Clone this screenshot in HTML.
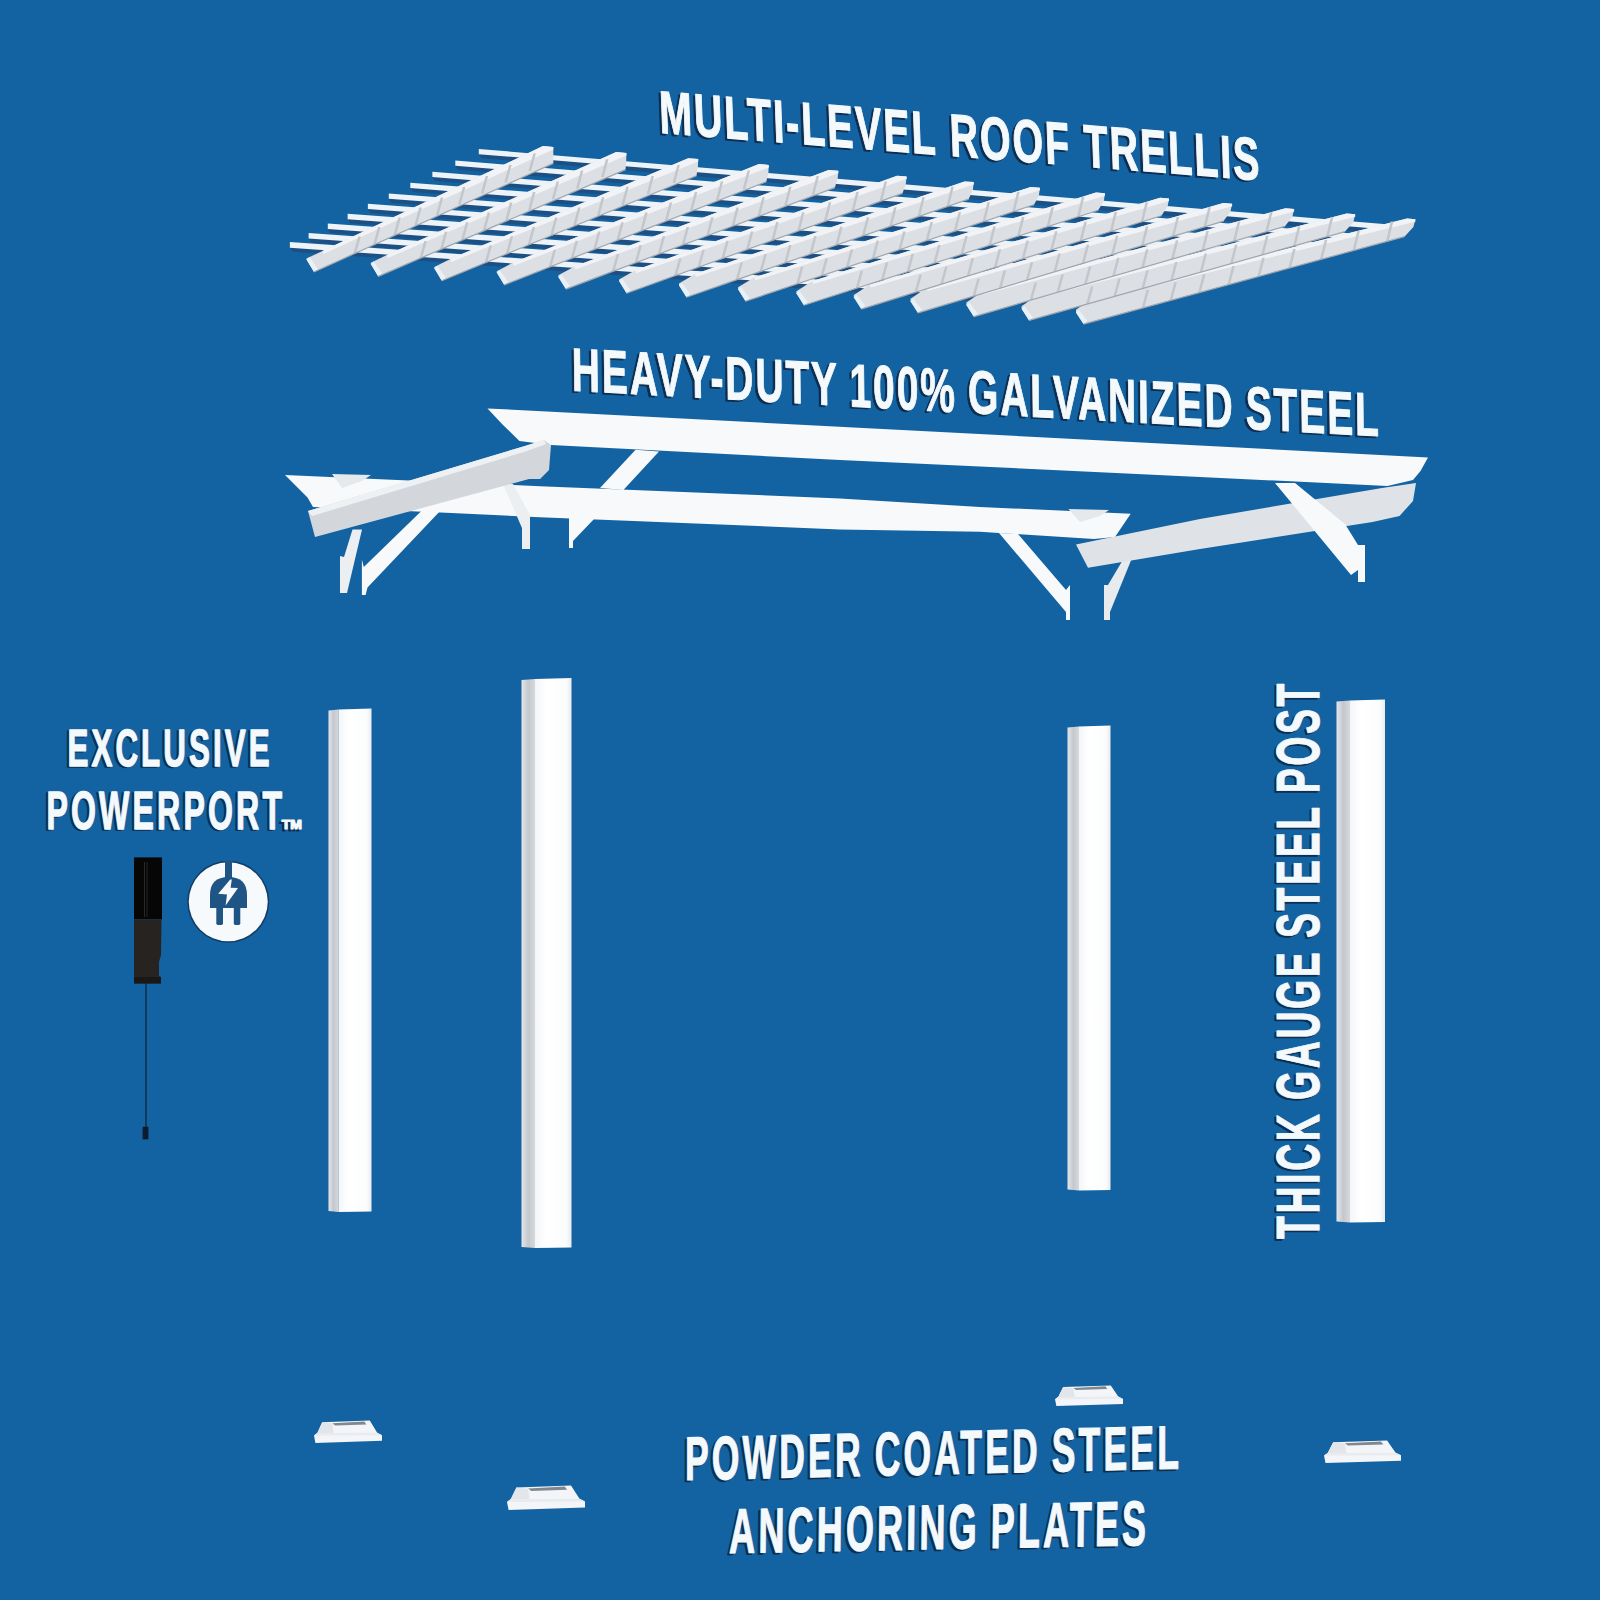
<!DOCTYPE html>
<html><head><meta charset="utf-8">
<style>
html,body{margin:0;padding:0;background:#1363a3;}
body{width:1600px;height:1600px;overflow:hidden;}
svg{display:block;}
text{font-family:"Liberation Sans",sans-serif;font-weight:bold;}
.tw text{stroke:#f4f9fc;vector-effect:non-scaling-stroke;stroke-linejoin:round;}
.ts text{stroke:#0d2e50;vector-effect:non-scaling-stroke;stroke-linejoin:round;}
</style></head>
<body>
<svg width="1600" height="1600" viewBox="0 0 1600 1600">
<defs>
<linearGradient id="pl" x1="0" x2="1" y1="0" y2="0"><stop offset="0" stop-color="#e4e7ea"/><stop offset="0.5" stop-color="#c4c8cc"/><stop offset="1" stop-color="#d6d9dc"/></linearGradient>
<linearGradient id="pf" x1="0" x2="1" y1="0" y2="0"><stop offset="0" stop-color="#f3f5f7"/><stop offset="0.3" stop-color="#ffffff"/><stop offset="0.85" stop-color="#fbfcfd"/><stop offset="1" stop-color="#e9ecef"/></linearGradient>
</defs>
<rect width="1600" height="1600" fill="#1363a3"/>
<polygon points="289.9,247.7 1126.4,306.9 1126.4,311.6 292.4,251.7" fill="#1d4f82" />
<polygon points="289.9,242.1 1126.4,301.3 1126.4,306.9 289.9,247.7" fill="#eef3f7" />
<polygon points="308.6,238.5 1153.6,299.2 1153.6,303.9 311.1,242.5" fill="#1d4f82" />
<polygon points="308.6,232.9 1153.6,293.7 1153.6,299.2 308.6,238.5" fill="#eef3f7" />
<polygon points="327.8,228.9 1181.5,291.4 1181.5,296.1 330.3,232.9" fill="#1d4f82" />
<polygon points="327.8,223.4 1181.5,285.9 1181.5,291.4 327.8,228.9" fill="#eef3f7" />
<polygon points="347.6,219.2 1210.2,283.3 1210.2,288.0 350.1,223.2" fill="#1d4f82" />
<polygon points="347.6,213.7 1210.2,277.9 1210.2,283.3 347.6,219.2" fill="#eef3f7" />
<polygon points="367.9,209.1 1239.5,275.1 1239.5,279.8 370.4,213.1" fill="#1d4f82" />
<polygon points="367.9,203.7 1239.5,269.7 1239.5,275.1 367.9,209.1" fill="#eef3f7" />
<polygon points="388.8,198.7 1269.7,266.6 1269.7,271.3 391.3,202.7" fill="#1d4f82" />
<polygon points="388.8,193.4 1269.7,261.2 1269.7,266.6 388.8,198.7" fill="#eef3f7" />
<polygon points="410.3,188.1 1300.6,257.9 1300.6,262.6 412.8,192.1" fill="#1d4f82" />
<polygon points="410.3,182.7 1300.6,252.6 1300.6,257.9 410.3,188.1" fill="#eef3f7" />
<polygon points="432.4,177.1 1332.3,249.0 1332.3,253.7 434.9,181.1" fill="#1d4f82" />
<polygon points="432.4,171.8 1332.3,243.7 1332.3,249.0 432.4,177.1" fill="#eef3f7" />
<polygon points="455.3,165.8 1364.9,239.9 1364.9,244.6 457.8,169.8" fill="#1d4f82" />
<polygon points="455.3,160.6 1364.9,234.6 1364.9,239.9 455.3,165.8" fill="#eef3f7" />
<polygon points="478.8,154.2 1398.4,230.4 1398.4,235.1 481.3,158.2" fill="#1d4f82" />
<polygon points="478.8,149.0 1398.4,225.2 1398.4,230.4 478.8,154.2" fill="#eef3f7" />
<polygon points="1076.0,309.8 1092.0,298.1 1407.0,218.5 1415.4,219.2 1413.4,227.1 1404.4,236.7 1083.5,324.1 1076.0,312.6" fill="#dcdfe3" />
<polygon points="1092.0,298.1 1407.0,218.5 1415.4,219.2 1415.4,221.7 1093.0,301.1" fill="#f1f3f6" />
<polygon points="1076.0,312.6 1079.0,310.1 1087.5,321.1 1083.5,324.1" fill="#e9f0f6" />
<polygon points="1146.5,290.1 1149.1,290.1 1144.3,307.9 1141.7,307.9" fill="#c3c7cc" />
<polygon points="1174.3,282.3 1176.9,282.3 1172.1,300.3 1169.5,300.3" fill="#c3c7cc" />
<polygon points="1202.9,274.3 1205.5,274.3 1200.7,292.5 1198.1,292.5" fill="#c3c7cc" />
<polygon points="1232.2,266.1 1234.8,266.1 1230.0,284.6 1227.4,284.6" fill="#c3c7cc" />
<polygon points="1262.2,257.7 1264.8,257.7 1260.0,276.4 1257.4,276.4" fill="#c3c7cc" />
<polygon points="1293.1,249.0 1295.7,249.0 1290.9,268.0 1288.3,268.0" fill="#c3c7cc" />
<polygon points="1324.7,240.1 1327.3,240.1 1322.5,259.3 1319.9,259.3" fill="#c3c7cc" />
<polygon points="1357.3,231.0 1359.9,231.0 1355.1,250.5 1352.5,250.5" fill="#c3c7cc" />
<polygon points="1390.7,221.6 1393.3,221.6 1388.5,241.4 1385.9,241.4" fill="#c3c7cc" />
<line x1="1083.5" y1="324.1" x2="1404.4" y2="236.7" stroke="#9fa6ad" stroke-width="1.2"/>
<polygon points="1021.6,306.2 1037.6,294.8 1346.7,213.4 1355.2,214.2 1353.4,222.0 1345.1,231.6 1029.1,320.4 1021.6,308.8" fill="#dcdfe3" />
<polygon points="1037.6,294.8 1346.7,213.4 1355.2,214.2 1355.2,216.7 1038.6,297.8" fill="#f1f3f6" />
<polygon points="1021.6,308.8 1024.6,306.3 1033.1,317.4 1029.1,320.4" fill="#e9f0f6" />
<polygon points="1090.9,286.4 1093.5,286.4 1088.7,304.0 1086.1,304.0" fill="#c3c7cc" />
<polygon points="1118.2,278.5 1120.8,278.5 1116.0,296.3 1113.4,296.3" fill="#c3c7cc" />
<polygon points="1146.2,270.3 1148.8,270.3 1144.0,288.5 1141.4,288.5" fill="#c3c7cc" />
<polygon points="1175.0,262.0 1177.6,262.0 1172.8,280.4 1170.2,280.4" fill="#c3c7cc" />
<polygon points="1204.5,253.4 1207.1,253.4 1202.3,272.1 1199.7,272.1" fill="#c3c7cc" />
<polygon points="1234.9,244.7 1237.5,244.7 1232.7,263.5 1230.1,263.5" fill="#c3c7cc" />
<polygon points="1266.0,235.7 1268.6,235.7 1263.8,254.8 1261.2,254.8" fill="#c3c7cc" />
<polygon points="1297.9,226.4 1300.5,226.4 1295.7,245.8 1293.1,245.8" fill="#c3c7cc" />
<polygon points="1330.8,216.9 1333.4,216.9 1328.6,236.6 1326.0,236.6" fill="#c3c7cc" />
<line x1="1029.1" y1="320.4" x2="1345.1" y2="231.6" stroke="#9fa6ad" stroke-width="1.2"/>
<polygon points="966.4,302.5 982.4,291.5 1285.5,208.3 1294.1,209.0 1292.4,216.8 1284.8,226.4 973.9,316.7 966.4,305.0" fill="#dcdfe3" />
<polygon points="982.4,291.5 1285.5,208.3 1294.1,209.0 1294.1,211.5 983.4,294.5" fill="#f1f3f6" />
<polygon points="966.4,305.0 969.4,302.5 977.9,313.7 973.9,316.7" fill="#e9f0f6" />
<polygon points="1034.5,282.6 1037.1,282.6 1032.3,300.1 1029.7,300.1" fill="#c3c7cc" />
<polygon points="1061.3,274.5 1063.9,274.5 1059.1,292.3 1056.5,292.3" fill="#c3c7cc" />
<polygon points="1088.8,266.3 1091.4,266.3 1086.6,284.3 1084.0,284.3" fill="#c3c7cc" />
<polygon points="1117.0,257.8 1119.6,257.8 1114.8,276.1 1112.2,276.1" fill="#c3c7cc" />
<polygon points="1146.0,249.2 1148.6,249.2 1143.8,267.7 1141.2,267.7" fill="#c3c7cc" />
<polygon points="1175.8,240.3 1178.4,240.3 1173.6,259.1 1171.0,259.1" fill="#c3c7cc" />
<polygon points="1206.3,231.1 1208.9,231.1 1204.1,250.2 1201.5,250.2" fill="#c3c7cc" />
<polygon points="1237.7,221.7 1240.3,221.7 1235.5,241.1 1232.9,241.1" fill="#c3c7cc" />
<polygon points="1270.0,212.1 1272.6,212.1 1267.8,231.7 1265.2,231.7" fill="#c3c7cc" />
<line x1="973.9" y1="316.7" x2="1284.8" y2="226.4" stroke="#9fa6ad" stroke-width="1.2"/>
<polygon points="910.5,298.8 926.5,288.1 1223.3,203.1 1232.1,203.8 1230.5,211.6 1223.6,221.1 918.0,312.9 910.5,301.2" fill="#dcdfe3" />
<polygon points="926.5,288.1 1223.3,203.1 1232.1,203.8 1232.1,206.3 927.5,291.1" fill="#f1f3f6" />
<polygon points="910.5,301.2 913.5,298.7 922.0,309.9 918.0,312.9" fill="#e9f0f6" />
<polygon points="977.3,278.7 979.9,278.7 975.1,296.1 972.5,296.1" fill="#c3c7cc" />
<polygon points="1003.6,270.5 1006.2,270.5 1001.4,288.2 998.8,288.2" fill="#c3c7cc" />
<polygon points="1030.6,262.2 1033.2,262.2 1028.4,280.1 1025.8,280.1" fill="#c3c7cc" />
<polygon points="1058.2,253.6 1060.8,253.6 1056.0,271.8 1053.4,271.8" fill="#c3c7cc" />
<polygon points="1086.6,244.8 1089.2,244.8 1084.4,263.3 1081.8,263.3" fill="#c3c7cc" />
<polygon points="1115.8,235.8 1118.4,235.8 1113.6,254.5 1111.0,254.5" fill="#c3c7cc" />
<polygon points="1145.8,226.5 1148.4,226.5 1143.6,245.5 1141.0,245.5" fill="#c3c7cc" />
<polygon points="1176.6,217.0 1179.2,217.0 1174.4,236.3 1171.8,236.3" fill="#c3c7cc" />
<polygon points="1208.3,207.2 1210.9,207.2 1206.1,226.8 1203.5,226.8" fill="#c3c7cc" />
<line x1="918.0" y1="312.9" x2="1223.6" y2="221.1" stroke="#9fa6ad" stroke-width="1.2"/>
<polygon points="853.8,295.0 869.8,284.6 1160.1,197.8 1169.0,198.5 1167.7,206.3 1161.4,215.7 861.3,309.1 853.8,297.3" fill="#dcdfe3" />
<polygon points="869.8,284.6 1160.1,197.8 1169.0,198.5 1169.0,201.0 870.8,287.6" fill="#f1f3f6" />
<polygon points="853.8,297.3 856.8,294.8 865.3,306.1 861.3,309.1" fill="#e9f0f6" />
<polygon points="919.3,274.7 921.9,274.7 917.1,292.1 914.5,292.1" fill="#c3c7cc" />
<polygon points="945.1,266.5 947.7,266.5 942.9,284.1 940.3,284.1" fill="#c3c7cc" />
<polygon points="971.5,258.0 974.1,258.0 969.3,275.9 966.7,275.9" fill="#c3c7cc" />
<polygon points="998.6,249.3 1001.2,249.3 996.4,267.5 993.8,267.5" fill="#c3c7cc" />
<polygon points="1026.4,240.4 1029.0,240.4 1024.2,258.8 1021.6,258.8" fill="#c3c7cc" />
<polygon points="1055.0,231.2 1057.6,231.2 1052.8,249.9 1050.2,249.9" fill="#c3c7cc" />
<polygon points="1084.3,221.8 1086.9,221.8 1082.1,240.8 1079.5,240.8" fill="#c3c7cc" />
<polygon points="1114.5,212.1 1117.1,212.1 1112.3,231.4 1109.7,231.4" fill="#c3c7cc" />
<polygon points="1145.5,202.2 1148.1,202.2 1143.3,221.8 1140.7,221.8" fill="#c3c7cc" />
<line x1="861.3" y1="309.1" x2="1161.4" y2="215.7" stroke="#9fa6ad" stroke-width="1.2"/>
<polygon points="796.4,291.2 812.4,281.1 1096.0,192.4 1105.0,193.2 1103.8,200.9 1098.2,210.3 803.9,305.2 796.4,293.3" fill="#dcdfe3" />
<polygon points="812.4,281.1 1096.0,192.4 1105.0,193.2 1105.0,195.7 813.4,284.1" fill="#f1f3f6" />
<polygon points="796.4,293.3 799.4,290.8 807.9,302.2 803.9,305.2" fill="#e9f0f6" />
<polygon points="860.5,270.7 863.1,270.7 858.3,288.0 855.7,288.0" fill="#c3c7cc" />
<polygon points="885.7,262.4 888.3,262.4 883.5,279.9 880.9,279.9" fill="#c3c7cc" />
<polygon points="911.5,253.8 914.1,253.8 909.3,271.6 906.7,271.6" fill="#c3c7cc" />
<polygon points="938.0,245.0 940.6,245.0 935.8,263.1 933.2,263.1" fill="#c3c7cc" />
<polygon points="965.2,235.9 967.8,235.9 963.0,254.3 960.4,254.3" fill="#c3c7cc" />
<polygon points="993.2,226.6 995.8,226.6 991.0,245.3 988.4,245.3" fill="#c3c7cc" />
<polygon points="1021.9,217.1 1024.5,217.1 1019.7,236.0 1017.1,236.0" fill="#c3c7cc" />
<polygon points="1051.4,207.2 1054.0,207.2 1049.2,226.5 1046.6,226.5" fill="#c3c7cc" />
<polygon points="1081.8,197.1 1084.4,197.1 1079.6,216.7 1077.0,216.7" fill="#c3c7cc" />
<line x1="803.9" y1="305.2" x2="1098.2" y2="210.3" stroke="#9fa6ad" stroke-width="1.2"/>
<polygon points="738.1,287.3 754.1,277.6 1030.7,186.9 1039.9,187.7 1038.9,195.4 1034.0,204.7 745.6,301.2 738.1,289.3" fill="#dcdfe3" />
<polygon points="754.1,277.6 1030.7,186.9 1039.9,187.7 1039.9,190.2 755.1,280.6" fill="#f1f3f6" />
<polygon points="738.1,289.3 741.1,286.8 749.6,298.2 745.6,301.2" fill="#e9f0f6" />
<polygon points="800.9,266.7 803.5,266.7 798.7,283.9 796.1,283.9" fill="#c3c7cc" />
<polygon points="825.4,258.2 828.0,258.2 823.2,275.7 820.6,275.7" fill="#c3c7cc" />
<polygon points="850.6,249.5 853.2,249.5 848.4,267.3 845.8,267.3" fill="#c3c7cc" />
<polygon points="876.5,240.6 879.1,240.6 874.3,258.6 871.7,258.6" fill="#c3c7cc" />
<polygon points="903.1,231.4 905.7,231.4 900.9,249.7 898.3,249.7" fill="#c3c7cc" />
<polygon points="930.4,221.9 933.0,221.9 928.2,240.6 925.6,240.6" fill="#c3c7cc" />
<polygon points="958.5,212.2 961.1,212.2 956.3,231.2 953.7,231.2" fill="#c3c7cc" />
<polygon points="987.4,202.3 990.0,202.3 985.2,221.5 982.6,221.5" fill="#c3c7cc" />
<polygon points="1017.1,192.0 1019.7,192.0 1014.9,211.6 1012.3,211.6" fill="#c3c7cc" />
<line x1="745.6" y1="301.2" x2="1034.0" y2="204.7" stroke="#9fa6ad" stroke-width="1.2"/>
<polygon points="679.0,283.4 695.0,273.9 964.5,181.4 973.8,182.1 972.9,189.8 968.7,199.1 686.5,297.2 679.0,285.2" fill="#dcdfe3" />
<polygon points="695.0,273.9 964.5,181.4 973.8,182.1 973.8,184.6 696.0,276.9" fill="#f1f3f6" />
<polygon points="679.0,285.2 682.0,282.7 690.5,294.2 686.5,297.2" fill="#e9f0f6" />
<polygon points="740.4,262.6 743.0,262.6 738.2,279.7 735.6,279.7" fill="#c3c7cc" />
<polygon points="764.3,254.0 766.9,254.0 762.1,271.4 759.5,271.4" fill="#c3c7cc" />
<polygon points="788.9,245.1 791.5,245.1 786.7,262.9 784.1,262.9" fill="#c3c7cc" />
<polygon points="814.1,236.1 816.7,236.1 811.9,254.1 809.3,254.1" fill="#c3c7cc" />
<polygon points="840.1,226.7 842.7,226.7 837.9,245.1 835.3,245.1" fill="#c3c7cc" />
<polygon points="866.7,217.2 869.3,217.2 864.5,235.8 861.9,235.8" fill="#c3c7cc" />
<polygon points="894.1,207.3 896.7,207.3 891.9,226.3 889.3,226.3" fill="#c3c7cc" />
<polygon points="922.3,197.2 924.9,197.2 920.1,216.5 917.5,216.5" fill="#c3c7cc" />
<polygon points="951.3,186.8 953.9,186.8 949.1,206.1 946.5,206.1" fill="#c3c7cc" />
<line x1="686.5" y1="297.2" x2="968.7" y2="199.1" stroke="#9fa6ad" stroke-width="1.2"/>
<polygon points="619.1,279.4 635.1,270.3 897.1,175.7 906.6,176.5 905.8,184.1 902.4,193.4 626.6,293.2 619.1,281.1" fill="#dcdfe3" />
<polygon points="635.1,270.3 897.1,175.7 906.6,176.5 906.6,179.0 636.1,273.3" fill="#f1f3f6" />
<polygon points="619.1,281.1 622.1,278.6 630.6,290.2 626.6,293.2" fill="#e9f0f6" />
<polygon points="679.0,258.4 681.6,258.4 676.8,275.5 674.2,275.5" fill="#c3c7cc" />
<polygon points="702.3,249.7 704.9,249.7 700.1,267.1 697.5,267.1" fill="#c3c7cc" />
<polygon points="726.2,240.7 728.8,240.7 724.0,258.4 721.4,258.4" fill="#c3c7cc" />
<polygon points="750.8,231.5 753.4,231.5 748.6,249.5 746.0,249.5" fill="#c3c7cc" />
<polygon points="776.1,222.0 778.7,222.0 773.9,240.4 771.3,240.4" fill="#c3c7cc" />
<polygon points="802.0,212.3 804.6,212.3 799.8,231.0 797.2,231.0" fill="#c3c7cc" />
<polygon points="828.7,202.3 831.3,202.3 826.5,221.3 823.9,221.3" fill="#c3c7cc" />
<polygon points="856.2,192.0 858.8,192.0 854.0,211.1 851.4,211.1" fill="#c3c7cc" />
<polygon points="884.5,181.5 887.1,181.5 882.3,200.5 879.7,200.5" fill="#c3c7cc" />
<line x1="626.6" y1="293.2" x2="902.4" y2="193.4" stroke="#9fa6ad" stroke-width="1.2"/>
<polygon points="558.4,275.3 574.4,266.5 828.6,170.0 838.3,170.8 837.7,178.3 834.9,187.6 565.9,289.1 558.4,276.9" fill="#dcdfe3" />
<polygon points="574.4,266.5 828.6,170.0 838.3,170.8 838.3,173.3 575.4,269.5" fill="#f1f3f6" />
<polygon points="558.4,276.9 561.4,274.4 569.9,286.1 565.9,289.1" fill="#e9f0f6" />
<polygon points="616.7,254.1 619.3,254.1 614.5,271.2 611.9,271.2" fill="#c3c7cc" />
<polygon points="639.4,245.3 642.0,245.3 637.2,262.7 634.6,262.7" fill="#c3c7cc" />
<polygon points="662.6,236.2 665.2,236.2 660.4,253.9 657.8,253.9" fill="#c3c7cc" />
<polygon points="686.5,226.9 689.1,226.9 684.3,244.9 681.7,244.9" fill="#c3c7cc" />
<polygon points="711.1,217.3 713.7,217.3 708.9,235.6 706.3,235.6" fill="#c3c7cc" />
<polygon points="736.3,207.4 738.9,207.4 734.1,226.1 731.5,226.1" fill="#c3c7cc" />
<polygon points="762.3,197.3 764.9,197.3 760.1,216.0 757.5,216.0" fill="#c3c7cc" />
<polygon points="789.0,186.8 791.6,186.8 786.8,205.5 784.2,205.5" fill="#c3c7cc" />
<polygon points="816.5,176.1 819.1,176.1 814.3,194.8 811.7,194.8" fill="#c3c7cc" />
<line x1="565.9" y1="289.1" x2="834.9" y2="187.6" stroke="#9fa6ad" stroke-width="1.2"/>
<polygon points="496.8,271.2 512.8,262.7 759.0,164.1 768.8,164.9 768.4,172.5 766.3,181.7 504.3,284.9 496.8,272.6" fill="#dcdfe3" />
<polygon points="512.8,262.7 759.0,164.1 768.8,164.9 768.8,167.4 513.8,265.7" fill="#f1f3f6" />
<polygon points="496.8,272.6 499.8,270.1 508.3,281.9 504.3,284.9" fill="#e9f0f6" />
<polygon points="553.5,249.8 556.1,249.8 551.3,266.9 548.7,266.9" fill="#c3c7cc" />
<polygon points="575.5,240.8 578.1,240.8 573.3,258.2 570.7,258.2" fill="#c3c7cc" />
<polygon points="598.0,231.6 600.6,231.6 595.8,249.3 593.2,249.3" fill="#c3c7cc" />
<polygon points="621.2,222.2 623.8,222.2 619.0,240.2 616.4,240.2" fill="#c3c7cc" />
<polygon points="645.1,212.4 647.7,212.4 642.9,230.8 640.3,230.8" fill="#c3c7cc" />
<polygon points="669.6,202.4 672.2,202.4 667.4,220.8 664.8,220.8" fill="#c3c7cc" />
<polygon points="694.8,192.1 697.4,192.1 692.6,210.5 690.0,210.5" fill="#c3c7cc" />
<polygon points="720.7,181.5 723.3,181.5 718.5,199.9 715.9,199.9" fill="#c3c7cc" />
<polygon points="747.5,170.6 750.1,170.6 745.3,189.0 742.7,189.0" fill="#c3c7cc" />
<line x1="504.3" y1="284.9" x2="766.3" y2="181.7" stroke="#9fa6ad" stroke-width="1.2"/>
<polygon points="434.3,267.0 450.3,258.9 688.2,158.2 698.2,159.0 697.9,166.5 696.5,175.7 441.8,280.7 434.3,268.3" fill="#dcdfe3" />
<polygon points="450.3,258.9 688.2,158.2 698.2,159.0 698.2,161.5 451.3,261.9" fill="#f1f3f6" />
<polygon points="434.3,268.3 437.3,265.8 445.8,277.7 441.8,280.7" fill="#e9f0f6" />
<polygon points="489.4,245.4 492.0,245.4 487.2,262.5 484.6,262.5" fill="#c3c7cc" />
<polygon points="510.6,236.3 513.2,236.3 508.4,253.7 505.8,253.7" fill="#c3c7cc" />
<polygon points="532.5,227.0 535.1,227.0 530.3,244.7 527.7,244.7" fill="#c3c7cc" />
<polygon points="554.9,217.4 557.5,217.4 552.7,235.5 550.1,235.5" fill="#c3c7cc" />
<polygon points="578.0,207.5 580.6,207.5 575.8,225.6 573.2,225.6" fill="#c3c7cc" />
<polygon points="601.8,197.3 604.4,197.3 599.6,215.4 597.0,215.4" fill="#c3c7cc" />
<polygon points="626.2,186.8 628.8,186.8 624.0,205.0 621.4,205.0" fill="#c3c7cc" />
<polygon points="651.4,176.1 654.0,176.1 649.2,194.2 646.6,194.2" fill="#c3c7cc" />
<polygon points="677.3,165.0 679.9,165.0 675.1,183.1 672.5,183.1" fill="#c3c7cc" />
<line x1="441.8" y1="280.7" x2="696.5" y2="175.7" stroke="#9fa6ad" stroke-width="1.2"/>
<polygon points="370.8,262.8 386.8,255.0 616.2,152.1 626.4,153.0 626.2,160.5 625.5,169.6 378.3,276.4 370.8,263.9" fill="#dcdfe3" />
<polygon points="386.8,255.0 616.2,152.1 626.4,153.0 626.4,155.5 387.8,258.0" fill="#f1f3f6" />
<polygon points="370.8,263.9 373.8,261.4 382.3,273.4 378.3,276.4" fill="#e9f0f6" />
<polygon points="424.3,241.0 426.9,241.0 422.1,258.0 419.5,258.0" fill="#c3c7cc" />
<polygon points="444.8,231.8 447.4,231.8 442.6,249.2 440.0,249.2" fill="#c3c7cc" />
<polygon points="465.9,222.3 468.5,222.3 463.7,240.0 461.1,240.0" fill="#c3c7cc" />
<polygon points="487.6,212.5 490.2,212.5 485.4,230.3 482.8,230.3" fill="#c3c7cc" />
<polygon points="509.9,202.5 512.5,202.5 507.7,220.3 505.1,220.3" fill="#c3c7cc" />
<polygon points="532.9,192.1 535.5,192.1 530.7,209.9 528.1,209.9" fill="#c3c7cc" />
<polygon points="556.5,181.5 559.1,181.5 554.3,199.3 551.7,199.3" fill="#c3c7cc" />
<polygon points="580.8,170.6 583.4,170.6 578.6,188.4 576.0,188.4" fill="#c3c7cc" />
<polygon points="605.9,159.3 608.5,159.3 603.7,177.1 601.1,177.1" fill="#c3c7cc" />
<line x1="378.3" y1="276.4" x2="625.5" y2="169.6" stroke="#9fa6ad" stroke-width="1.2"/>
<polygon points="306.5,258.5 322.5,251.0 543.0,146.0 553.3,146.9 553.3,154.3 553.3,163.4 314.0,272.0 306.5,259.5" fill="#dcdfe3" />
<polygon points="322.5,251.0 543.0,146.0 553.3,146.9 553.3,149.4 323.5,254.0" fill="#f1f3f6" />
<polygon points="306.5,259.5 309.5,257.0 318.0,269.0 314.0,272.0" fill="#e9f0f6" />
<polygon points="358.2,236.5 360.8,236.5 356.0,253.5 353.4,253.5" fill="#c3c7cc" />
<polygon points="378.0,227.1 380.6,227.1 375.8,244.6 373.2,244.6" fill="#c3c7cc" />
<polygon points="398.3,217.5 400.9,217.5 396.1,235.0 393.5,235.0" fill="#c3c7cc" />
<polygon points="419.2,207.6 421.8,207.6 417.0,225.1 414.4,225.1" fill="#c3c7cc" />
<polygon points="440.7,197.4 443.3,197.4 438.5,214.9 435.9,214.9" fill="#c3c7cc" />
<polygon points="462.8,186.9 465.4,186.9 460.6,204.4 458.0,204.4" fill="#c3c7cc" />
<polygon points="485.6,176.1 488.2,176.1 483.4,193.6 480.8,193.6" fill="#c3c7cc" />
<polygon points="509.1,164.9 511.7,164.9 506.9,182.4 504.3,182.4" fill="#c3c7cc" />
<polygon points="533.3,153.5 535.9,153.5 531.1,171.0 528.5,171.0" fill="#c3c7cc" />
<line x1="314.0" y1="272.0" x2="553.3" y2="163.4" stroke="#9fa6ad" stroke-width="1.2"/>
<polygon points="487.5,408.4 1428.0,457.5 1420.5,471.0 1413.0,480.0 1387.5,486.0 1200.0,477.0 980.0,466.5 840.0,460.0 551.0,445.0 519.4,441.0 502.5,424.4" fill="#f7f9fb" />
<polygon points="285.0,475.0 540.0,486.2 840.0,498.4 980.0,507.0 1130.7,513.7 1115.0,537.0 1094.0,539.0 980.0,531.7 840.0,529.4 540.0,517.2 440.6,512.5 313.0,507.0 307.5,497.5" fill="#f7f9fb" />
<polygon points="1068.5,509.0 1109.0,510.0 1100.0,516.0 1080.0,522.0" fill="#e6e9ec" />
<polygon points="332.0,474.0 371.0,475.0 362.0,481.0 342.0,488.0" fill="#e6e9ec" />
<polygon points="635.6,449.7 659.0,451.6 623.4,490.0 600.0,488.0" fill="#f7f9fb" />
<polygon points="568.0,516.0 595.0,518.0 573.0,541.0 573.0,548.0 569.0,548.0 569.0,516.0" fill="#f7f9fb" />
<polygon points="352.5,529.4 362.0,529.4 347.0,593.0 340.0,593.0 340.0,556.0 344.0,557.0" fill="#eceff2" />
<polygon points="421.9,510.6 440.6,510.6 367.5,587.5 365.6,595.0 361.9,595.0 361.9,559.4 363.8,566.9" fill="#f7f9fb" />
<polygon points="503.0,484.0 513.0,484.0 530.0,515.0 530.0,549.0 522.0,549.0 522.0,528.0" fill="#eceff2" />
<polygon points="308.0,511.0 525.0,446.0 544.0,440.0 551.0,445.0 549.0,470.0 540.0,479.0 529.0,479.0 315.0,537.0" fill="#d3d7dc" />
<polygon points="308.0,511.0 525.0,446.0 544.0,440.0 546.0,444.0 527.0,451.0 312.0,516.0" fill="#eef1f4" />
<polygon points="999.0,533.0 1018.0,534.0 1066.0,590.0 1070.0,585.0 1070.0,620.0 1066.0,620.0 1066.0,612.0" fill="#f7f9fb" />
<polygon points="1124.0,558.0 1132.0,558.0 1110.0,612.0 1110.0,620.0 1104.0,620.0 1104.0,585.0 1108.0,585.0" fill="#e8ebee" />
<polygon points="1076.0,544.5 1200.0,519.0 1382.0,488.0 1416.0,483.0 1413.0,501.0 1399.5,516.0 1372.5,522.0 1200.0,549.0 1088.0,567.7" fill="#dfe3e7" />
<polygon points="1275.0,483.0 1295.0,483.0 1345.0,524.0 1358.0,545.0 1365.0,545.0 1365.0,582.0 1358.0,582.0 1358.0,570.0 1351.0,575.0" fill="#f7f9fb" />
<polygon points="328.5,710.5 338.5,709.5 338.5,1212.0 328.5,1211.0" fill="url(#pl)" />
<polygon points="338.5,709.5 371.5,708.5 371.5,1211.5 338.5,1212.0" fill="url(#pf)" />
<polygon points="521.5,680.0 535.0,679.0 535.0,1248.0 521.5,1247.0" fill="url(#pl)" />
<polygon points="535.0,679.0 571.5,678.0 571.5,1247.5 535.0,1248.0" fill="url(#pf)" />
<polygon points="1067.5,727.5 1079.0,726.5 1079.0,1190.5 1067.5,1189.5" fill="url(#pl)" />
<polygon points="1079.0,726.5 1110.5,725.5 1110.5,1190.0 1079.0,1190.5" fill="url(#pf)" />
<polygon points="1336.5,701.5 1350.0,700.5 1350.0,1222.5 1336.5,1221.5" fill="url(#pl)" />
<polygon points="1350.0,700.5 1385.0,699.5 1385.0,1222.0 1350.0,1222.5" fill="url(#pf)" />
<polygon points="322.2,1422.3 369.8,1420.5 377.2,1432.7 382.0,1435.2 382.0,1440.7 315.4,1443.0 314.0,1435.6 317.4,1432.7" fill="#f3f5f8" />
<polygon points="322.2,1422.3 332.4,1423.5 333.7,1433.1 317.4,1433.1" fill="#e2e5e9" />
<polygon points="317.4,1433.1 377.2,1432.7 382.0,1435.2 314.0,1435.6" fill="#e8ebef" />
<polygon points="332.4,1423.2 364.3,1421.4 366.4,1424.4 335.1,1425.5" fill="#80878e" />
<polygon points="516.4,1487.5 571.0,1485.5 579.5,1498.8 585.0,1501.5 585.0,1507.5 508.6,1510.0 507.0,1502.0 510.9,1498.8" fill="#f3f5f8" />
<polygon points="516.4,1487.5 528.1,1488.8 529.6,1499.2 510.9,1499.2" fill="#e2e5e9" />
<polygon points="510.9,1499.2 579.5,1498.8 585.0,1501.5 507.0,1502.0" fill="#e8ebef" />
<polygon points="528.1,1488.5 564.7,1486.5 567.1,1489.8 531.2,1491.0" fill="#80878e" />
<polygon points="1063.2,1387.1 1110.8,1385.4 1118.2,1396.5 1123.0,1398.9 1123.0,1403.9 1056.4,1406.0 1055.0,1399.3 1058.4,1396.5" fill="#f3f5f8" />
<polygon points="1063.2,1387.1 1073.4,1388.2 1074.7,1397.0 1058.4,1397.0" fill="#e2e5e9" />
<polygon points="1058.4,1397.0 1118.2,1396.5 1123.0,1398.9 1055.0,1399.3" fill="#e8ebef" />
<polygon points="1073.4,1387.9 1105.3,1386.3 1107.4,1389.0 1076.1,1390.0" fill="#80878e" />
<polygon points="1333.2,1442.3 1387.1,1440.5 1395.6,1452.7 1401.0,1455.2 1401.0,1460.7 1325.5,1463.0 1324.0,1455.6 1327.8,1452.7" fill="#f3f5f8" />
<polygon points="1333.2,1442.3 1344.8,1443.5 1346.3,1453.1 1327.8,1453.1" fill="#e2e5e9" />
<polygon points="1327.8,1453.1 1395.6,1452.7 1401.0,1455.2 1324.0,1455.6" fill="#e8ebef" />
<polygon points="1344.8,1443.2 1381.0,1441.4 1383.3,1444.4 1347.9,1445.5" fill="#80878e" />

<rect x="134" y="857.4" width="28" height="62" fill="#060606"/>
<line x1="144.5" y1="862" x2="144.5" y2="917" stroke="#2e2e2e" stroke-width="0.9"/><line x1="147" y1="862" x2="147" y2="917" stroke="#2a2a2a" stroke-width="0.9"/>
<path d="M134,919.5 L161.5,919.5 L161,955 L159,962 L159,976 L161,977 L161,983.4 L134,983.4 Z" fill="#262320"/>
<rect x="134" y="977" width="27" height="6.4" fill="#1a1816"/>
<line x1="146" y1="983" x2="146" y2="1127" stroke="#10243a" stroke-width="1.3"/>
<rect x="142.6" y="1126.8" width="5.8" height="12.6" fill="#0c1c2e"/>


<circle cx="228.25" cy="901.75" r="41" fill="#123d64"/>
<circle cx="228.25" cy="901.75" r="39.5" fill="#f7fafc"/>
<rect x="225" y="861" width="7" height="18" fill="#1f5585"/>
<path d="M210,908 L210,895 Q210,877 228.5,877 Q247,877 247,895 L247,908 Z" fill="#1f5585"/>
<rect x="216.3" y="906" width="6.7" height="18.9" rx="1.6" fill="#1f5585"/>
<rect x="233.8" y="906" width="6.5" height="18.9" rx="1.6" fill="#1f5585"/>
<path d="M230.2,879.6 L218.2,893.8 L227,894.4 L225.6,905.4 L238,888 L230.6,887.8 L231.8,879.6 Z" fill="#f7fafc"/>

<g class="ts" fill="#0d2e50" transform="translate(-2.3,1.7)">
<g transform="matrix(0.60198 0.04755 0.02174 0.60145 660.01 132.84)"><text x="0" y="0" style="stroke-width:1.2px" font-size="100" letter-spacing="5" word-spacing="0" textLength="1000.0" lengthAdjust="spacingAndGlyphs">MULTI-LEVEL ROOF TRELLIS</text></g>
<g transform="matrix(0.80899 0.04590 0.00725 0.60870 572.00 390.39)"><text x="0" y="0" style="stroke-width:1.2px" font-size="100" letter-spacing="5" word-spacing="-4" textLength="1000.0" lengthAdjust="spacingAndGlyphs">HEAVY-DUTY 100% GALVANIZED STEEL</text></g>
<g transform="matrix(0.20535 0.00000 -0.00000 0.52029 67.45 765.50)"><text x="0" y="0" style="stroke-width:1.05px" font-size="100" letter-spacing="10" word-spacing="-6" textLength="1000.0" lengthAdjust="spacingAndGlyphs">EXCLUSIVE</text></g>
<g transform="matrix(0.23875 0.00000 -0.00000 0.53261 46.45 828.50)"><text x="0" y="0" style="stroke-width:1.05px" font-size="100" letter-spacing="10" word-spacing="-6" textLength="1000.0" lengthAdjust="spacingAndGlyphs">POWERPORT</text></g>
<g transform="matrix(0.02020 0.00000 -0.00000 0.12754 281.80 829.40)"><text x="0" y="0" style="stroke-width:0.85px" font-size="100" letter-spacing="0" word-spacing="-10" textLength="1000.0" lengthAdjust="spacingAndGlyphs">TM</text></g>
<g transform="matrix(0.00000 -0.55815 0.60725 -0.00000 1318.80 1239.05)"><text x="0" y="0" style="stroke-width:1.0px" font-size="100" letter-spacing="7" word-spacing="-4" textLength="1000.0" lengthAdjust="spacingAndGlyphs">THICK GAUGE STEEL POST</text></g>
<g transform="matrix(0.49700 -0.01169 -0.00000 0.61449 685.00 1480.07)"><text x="0" y="0" style="stroke-width:1.1px" font-size="100" letter-spacing="9" word-spacing="-6" textLength="1000.0" lengthAdjust="spacingAndGlyphs">POWDER COATED STEEL</text></g>
<g transform="matrix(0.42000 -0.00814 -0.00725 0.63043 729.00 1553.02)"><text x="0" y="0" style="stroke-width:1.1px" font-size="100" letter-spacing="9" word-spacing="-6" textLength="1000.0" lengthAdjust="spacingAndGlyphs">ANCHORING PLATES</text></g>
</g>
<g class="tw" fill="#f4f9fc">
<g transform="matrix(0.60198 0.04755 0.02174 0.60145 660.01 132.84)"><text x="0" y="0" style="stroke-width:1.2px" font-size="100" letter-spacing="5" word-spacing="0" textLength="1000.0" lengthAdjust="spacingAndGlyphs">MULTI-LEVEL ROOF TRELLIS</text></g>
<g transform="matrix(0.80899 0.04590 0.00725 0.60870 572.00 390.39)"><text x="0" y="0" style="stroke-width:1.2px" font-size="100" letter-spacing="5" word-spacing="-4" textLength="1000.0" lengthAdjust="spacingAndGlyphs">HEAVY-DUTY 100% GALVANIZED STEEL</text></g>
<g transform="matrix(0.20535 0.00000 -0.00000 0.52029 67.45 765.50)"><text x="0" y="0" style="stroke-width:1.05px" font-size="100" letter-spacing="10" word-spacing="-6" textLength="1000.0" lengthAdjust="spacingAndGlyphs">EXCLUSIVE</text></g>
<g transform="matrix(0.23875 0.00000 -0.00000 0.53261 46.45 828.50)"><text x="0" y="0" style="stroke-width:1.05px" font-size="100" letter-spacing="10" word-spacing="-6" textLength="1000.0" lengthAdjust="spacingAndGlyphs">POWERPORT</text></g>
<g transform="matrix(0.02020 0.00000 -0.00000 0.12754 281.80 829.40)"><text x="0" y="0" style="stroke-width:0.85px" font-size="100" letter-spacing="0" word-spacing="-10" textLength="1000.0" lengthAdjust="spacingAndGlyphs">TM</text></g>
<g transform="matrix(0.00000 -0.55815 0.60725 -0.00000 1318.80 1239.05)"><text x="0" y="0" style="stroke-width:1.0px" font-size="100" letter-spacing="7" word-spacing="-4" textLength="1000.0" lengthAdjust="spacingAndGlyphs">THICK GAUGE STEEL POST</text></g>
<g transform="matrix(0.49700 -0.01169 -0.00000 0.61449 685.00 1480.07)"><text x="0" y="0" style="stroke-width:1.1px" font-size="100" letter-spacing="9" word-spacing="-6" textLength="1000.0" lengthAdjust="spacingAndGlyphs">POWDER COATED STEEL</text></g>
<g transform="matrix(0.42000 -0.00814 -0.00725 0.63043 729.00 1553.02)"><text x="0" y="0" style="stroke-width:1.1px" font-size="100" letter-spacing="9" word-spacing="-6" textLength="1000.0" lengthAdjust="spacingAndGlyphs">ANCHORING PLATES</text></g>
</g>
</svg>
</body></html>
